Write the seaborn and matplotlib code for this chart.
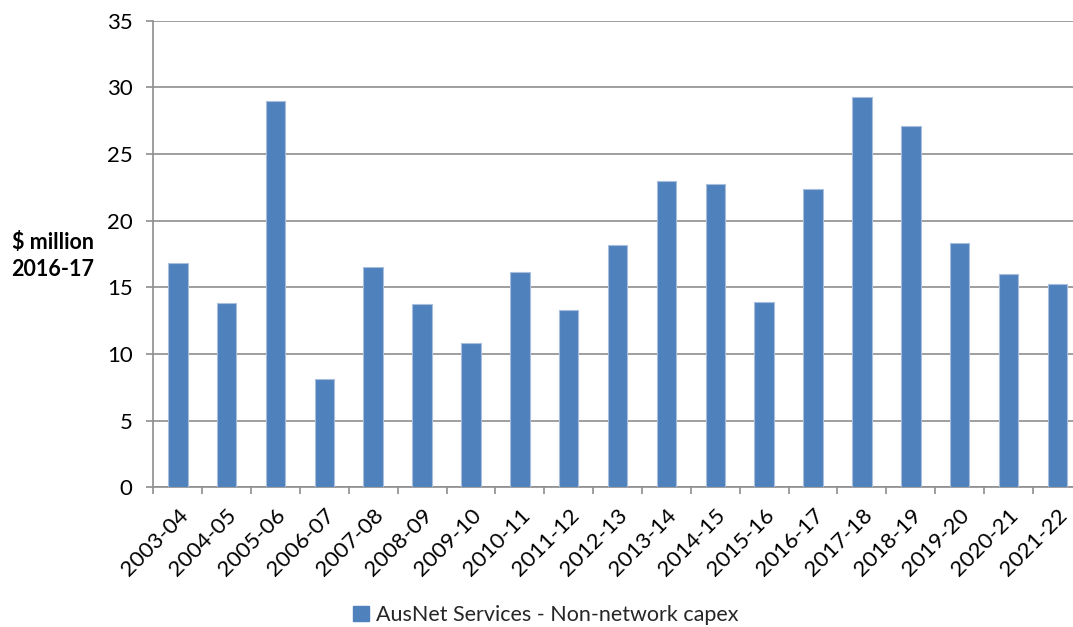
import numpy as np
import pandas as pd
import matplotlib
matplotlib.use("Agg")
import matplotlib.pyplot as plt
from matplotlib.ticker import FixedLocator, MultipleLocator
from matplotlib.patches import Patch
import seaborn as sns

# Non-network capex by financial year ($ million, 2016-17 dollars)
years = ["2003-04", "2004-05", "2005-06", "2006-07", "2007-08", "2008-09",
         "2009-10", "2010-11", "2011-12", "2012-13", "2013-14", "2014-15",
         "2015-16", "2016-17", "2017-18", "2018-19", "2019-20", "2020-21",
         "2021-22"]
capex = [16.83, 13.85, 28.98, 8.10, 16.50, 13.77, 10.85, 16.17, 13.32,
         18.15, 22.95, 22.73, 13.92, 22.38, 29.30, 27.08, 18.30, 15.98,
         15.23]
series_name = "AusNet Services - Non-network capex"
y_label = "$ million\n2016-17"

sns.set_style("white")
plt.rcParams["font.family"] = ["Lato", "DejaVu Sans"]

BAR = "#4F81BD"
GRID = "#8E8E8E"
TICK_FS = 16
TEXT_FS = 15.5

df = pd.DataFrame({"year": years, "capex": capex})

fig = plt.figure(figsize=(10.73, 6.27), dpi=100)
ax = fig.add_axes([153.3 / 1073, 1 - 487.3 / 627, 928.5 / 1073, 466.6 / 627])

sns.barplot(data=df, x="year", y="capex", color=BAR, saturation=1,
            width=0.4, edgecolor="#A9BEDC", linewidth=0.8, ax=ax, zorder=3)

ax.set_xlim(-0.5, len(years) - 0.5)
ax.set_ylim(0, 35)
ax.yaxis.set_major_locator(MultipleLocator(5))
ax.grid(axis="y", color=GRID, linewidth=1.2, zorder=0)
ax.set_axisbelow(True)

for side in ("top", "right"):
    ax.spines[side].set_visible(False)
for side in ("left", "bottom"):
    ax.spines[side].set_color(GRID)
    ax.spines[side].set_linewidth(1.2)

ax.set_xlabel("")
ax.set_ylabel("")

# category boundary tick marks, labels at the bar centres
ax.xaxis.set_minor_locator(FixedLocator(np.arange(-0.5, len(years), 1.0)))
ax.tick_params(axis="x", which="minor", length=5, width=1.2, color=GRID,
               direction="out", bottom=True)
ax.tick_params(axis="x", which="major", length=0, pad=13, labelsize=TICK_FS,
               labelcolor="black", bottom=True)
ax.tick_params(axis="y", which="major", length=5, width=1.2, color=GRID,
               direction="out", pad=10, labelsize=TICK_FS,
               labelcolor="black", left=True)
ax.set_xticks(range(len(years)))
ax.set_xticklabels(years, rotation=45, ha="right", va="top",
                   rotation_mode="anchor")

fig.text(53 / 1073, 1 - 256 / 627, y_label, ha="center", va="center",
         fontsize=TEXT_FS, fontweight="bold", linespacing=1.3,
         multialignment="center", color="black")

handle = Patch(facecolor=BAR, edgecolor=BAR)
fig.legend([handle], [series_name], loc="center",
           bbox_to_anchor=(546 / 1073, 1 - 615 / 627), frameon=False,
           fontsize=TEXT_FS, handlelength=0.7, handleheight=0.7,
           handletextpad=0.35, borderpad=0)

fig.savefig("out.png", dpi=100)
